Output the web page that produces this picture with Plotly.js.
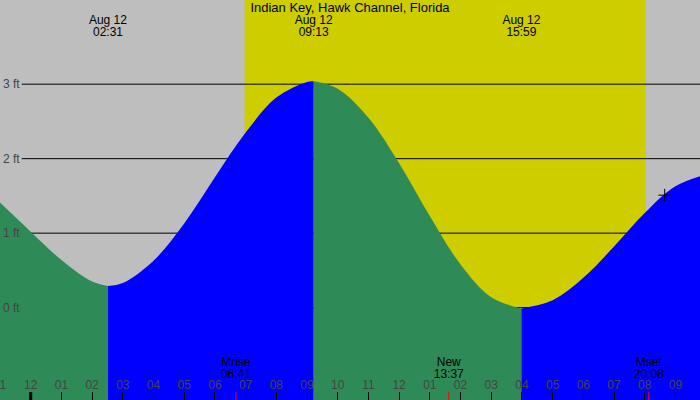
<!DOCTYPE html>
<html>
<head>
<meta charset="utf-8">
<script src="https://cdn.plot.ly/plotly-3.0.1.min.js"></script>
<style>
html, body { margin: 0; padding: 0; background: #bebebe; }
#chart_holder { width: 700px; height: 400px; }
</style>
</head>
<body>
<div id="chart_holder"></div>
<script>
// tide level in feet
let tide_times = [
    "2018-08-11 23:00", "2018-08-12 00:00", "2018-08-12 01:00", "2018-08-12 02:00",
    "2018-08-12 02:31", "2018-08-12 03:00", "2018-08-12 04:00", "2018-08-12 05:00",
    "2018-08-12 06:00", "2018-08-12 07:00", "2018-08-12 08:00", "2018-08-12 09:00",
    "2018-08-12 09:13", "2018-08-12 10:00", "2018-08-12 11:00", "2018-08-12 12:00",
    "2018-08-12 13:00", "2018-08-12 14:00", "2018-08-12 15:00", "2018-08-12 15:59",
    "2018-08-12 17:00", "2018-08-12 18:00", "2018-08-12 19:00", "2018-08-12 20:00",
    "2018-08-12 21:00", "2018-08-12 22:16"
];
let tide_levels = [
    1.41, 1.02, 0.64, 0.35,
    0.29, 0.33, 0.63, 1.13,
    1.75, 2.35, 2.82, 3.03,
    3.04, 2.94, 2.55, 1.94,
    1.23, 0.58, 0.14, -0.01,
    0.10, 0.40, 0.82, 1.27,
    1.63, 1.82
];

// high and low water
let extreme_times = ["2018-08-12 02:31", "2018-08-12 09:13", "2018-08-12 15:59", "2018-08-12 22:16"];
let extreme_dates = ["Aug 12", "Aug 12", "Aug 12", "Aug 12"];
let extreme_labels = ["02:31", "09:13", "15:59", "22:16"];

// moon events
let moon_times = ["2018-08-12 06:41", "2018-08-12 13:37", "2018-08-12 20:08"];
let moon_names = ["Mrise", "New", "Mset"];
let moon_labels = ["06:41", "13:37", "20:08"];

let sunrise = "2018-08-12 06:58";
let sunset = "2018-08-12 20:02";
let midnight = "2018-08-12 00:00";
let now_time = ["2018-08-12 20:39"];
let now_level = [1.51];
let level_ticks = [0, 1, 2, 3];
let level_labels = ["0 ft", "1 ft", "2 ft", "3 ft"];

let x_range = ["2018-08-11 23:00", "2018-08-12 21:48"];
let y_range = [-1.24, 4.13];
let night_color = "#bebebe";
let day_color = "#cdcd00";
let falling_color = "#2e8b57";
let rising_color = "#0000ff";

let chart_holder = document.querySelector("#chart_holder");
let data = new Array();

// one filled piece per rising or falling stretch
let start = 0;
for (let i = 1; i < tide_times.length; i++) {
    if (extreme_times.indexOf(tide_times[i]) == -1 && i != tide_times.length - 1) {
        continue;
    }
    let xs = tide_times.slice(start, i + 1);
    let ys = tide_levels.slice(start, i + 1);
    let falling = ys[ys.length - 1] < ys[0];
    data.push({
        x: [xs[0], xs[xs.length - 1]],
        y: [y_range[0], y_range[0]],
        mode: "lines",
        line: { width: 0 },
        hoverinfo: "skip"
    });
    data.push({
        x: xs,
        y: ys,
        mode: "lines",
        line: { width: 0, shape: "spline", smoothing: 1 },
        fill: "tonexty",
        fillcolor: falling ? falling_color : rising_color,
        hoverinfo: "skip"
    });
    start = i;
}

data.push({
    x: now_time,
    y: now_level,
    mode: "markers",
    marker: { symbol: "cross-thin", size: 9, line: { color: "black", width: 1 } },
    hoverinfo: "skip"
});

function textRow(xs, texts, pos) {
    return {
        x: xs,
        y: xs.map(function() { return pos; }),
        yaxis: "y2",
        mode: "text",
        text: texts,
        textposition: "middle center",
        textfont: { family: "Liberation Sans", size: 12, color: "black" },
        cliponaxis: false,
        hoverinfo: "skip"
    };
}
data.push(textRow(extreme_times, extreme_dates, 0.947));
data.push(textRow(extreme_times, extreme_labels, 0.917));
data.push(textRow(moon_times, moon_names, 0.092));
data.push(textRow(moon_times, moon_labels, 0.062));

let shapes = new Array();
shapes.push({
    type: "rect", xref: "x", yref: "paper",
    x0: sunrise, x1: sunset, y0: 0, y1: 1,
    fillcolor: day_color, line: { width: 0 }, layer: "below"
});
for (let i = 0; i < level_ticks.length; i++) {
    shapes.push({
        type: "line", xref: "paper", yref: "y",
        x0: 0.031, x1: 1, y0: level_ticks[i], y1: level_ticks[i],
        line: { color: "black", width: 1 }, layer: "below"
    });
}
shapes.push({
    type: "line", xref: "x", yref: "paper",
    x0: midnight, x1: midnight, y0: 0, y1: 0.02,
    line: { color: "black", width: 3 }
});
for (let i = 0; i < moon_times.length; i++) {
    shapes.push({
        type: "line", xref: "x", yref: "paper",
        x0: moon_times[i], x1: moon_times[i], y0: 0, y1: 0.02,
        line: { color: "red", width: 1 }
    });
}

let layout = {
    width: 700,
    height: 400,
    margin: { l: 0, r: 0, t: 0, b: 0 },
    paper_bgcolor: night_color,
    plot_bgcolor: night_color,
    font: { family: "Liberation Sans", size: 12, color: "black" },
    showlegend: false,
    title: {
        text: "Indian Key, Hawk Channel, Florida",
        x: 0.5, xanchor: "center", y: 0.981, yanchor: "middle",
        font: { size: 13 }
    },
    xaxis: {
        type: "date",
        range: x_range,
        showgrid: false,
        zeroline: false,
        showline: false,
        ticks: "inside",
        ticklen: 8,
        tickwidth: 1,
        tickcolor: "black",
        tick0: midnight,
        dtick: 3600000,
        tickformat: "%I",
        ticklabelposition: "inside",
        ticklabeloverflow: "allow"
    },
    yaxis: {
        range: y_range,
        tickvals: level_ticks,
        ticktext: level_labels,
        tickfont: { size: 12 },
        ticklabelposition: "inside",
        ticklabeloverflow: "allow",
        ticks: "",
        showgrid: false,
        zeroline: false,
        showline: false
    },
    yaxis2: {
        overlaying: "y",
        range: [0, 1],
        visible: false
    },
    shapes: shapes
};

Plotly.newPlot(chart_holder, data, layout, { staticPlot: true });
</script>
</body>
</html>
